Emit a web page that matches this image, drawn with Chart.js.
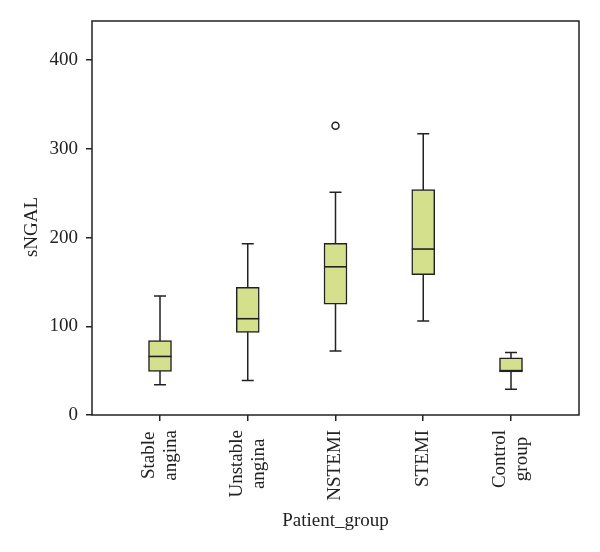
<!DOCTYPE html>
<html>
<head>
<meta charset="utf-8">
<script src="https://cdn.jsdelivr.net/npm/chart.js@4/dist/chart.umd.min.js"></script>
<style>
  html, body { margin: 0; padding: 0; background: #fff; }
  #wrap { width: 600px; height: 552px; }
</style>
</head>
<body>
<div id="wrap"><canvas id="chartBox"></canvas></div>
<script>
const categories = [['Stable', 'angina'], ['Unstable', 'angina'], ['NSTEMI'], ['STEMI'], ['Control', 'group']]
const whiskerLow = [34, 39, 72, 106, 29]
const q1 = [49, 93, 125, 158, 48.5]
const median = [66, 108.5, 167, 187, 50]
const q3 = [84, 144, 193.5, 254, 64.5]
const whiskerHigh = [134, 193, 251, 317, 70.5]
const outlierGroup = [2]
const outlierValue = [326]
const yTicks = [0, 100, 200, 300, 400]
const yTitle = 'sNGAL'

const ink = '#222'
const serif = 'Liberation Serif, "Times New Roman", serif'

const boxParts = {
  id: 'boxParts',
  beforeDatasetsDraw(chart) {
    const { ctx, scales: { x, y } } = chart
    ctx.save()
    ctx.strokeStyle = ink
    ctx.lineWidth = 1.5
    categories.forEach((c, i) => {
      const px = x.getPixelForValue(i)
      ctx.beginPath()
      ctx.moveTo(px, y.getPixelForValue(whiskerLow[i]))
      ctx.lineTo(px, y.getPixelForValue(whiskerHigh[i]))
      ctx.moveTo(px - 6, y.getPixelForValue(whiskerLow[i]))
      ctx.lineTo(px + 6, y.getPixelForValue(whiskerLow[i]))
      ctx.moveTo(px - 6, y.getPixelForValue(whiskerHigh[i]))
      ctx.lineTo(px + 6, y.getPixelForValue(whiskerHigh[i]))
      ctx.stroke()
    })
    ctx.restore()
  },
  afterDatasetsDraw(chart) {
    const { ctx, scales: { x, y } } = chart
    ctx.save()
    ctx.strokeStyle = ink
    ctx.lineWidth = 1.6
    categories.forEach((c, i) => {
      const px = x.getPixelForValue(i)
      const py = y.getPixelForValue(median[i])
      ctx.beginPath()
      ctx.moveTo(px - 11.5, py)
      ctx.lineTo(px + 11.5, py)
      ctx.stroke()
    })
    ctx.restore()
  },
  afterDraw(chart) {
    const { ctx, chartArea: a, scales: { x } } = chart
    ctx.save()
    ctx.strokeStyle = ink
    ctx.lineWidth = 1.5
    ctx.strokeRect(a.left, a.top, a.right - a.left, a.bottom - a.top)

    ctx.fillStyle = ink
    ctx.font = '19px ' + serif
    ctx.textAlign = 'center'
    ctx.textBaseline = 'middle'

    // y title sits a bit below the middle of the plot in the original
    ctx.save()
    ctx.translate(32, 227)
    ctx.rotate(-Math.PI / 2)
    ctx.fillText(yTitle, 0, 0)
    ctx.restore()

    // rotated category labels, lines centred on each tick
    const lh = 22
    categories.forEach((lines, i) => {
      const px = x.getPixelForValue(i)
      const maxW = Math.max(...lines.map(t => ctx.measureText(t).width))
      lines.forEach((t, j) => {
        ctx.save()
        ctx.translate(px + (j - (lines.length - 1) / 2) * lh, 430 + maxW / 2)
        ctx.rotate(-Math.PI / 2)
        ctx.fillText(t, 0, 0)
        ctx.restore()
      })
    })
    ctx.restore()
  }
}

const chartBox = new Chart(document.getElementById('chartBox').getContext('2d'), {
  type: 'bar',
  data: {
    datasets: [
      {
        label: 'box',
        data: categories.map((c, i) => ({ x: i, y: [q1[i], q3[i]] })),
        backgroundColor: '#d4e08c',
        borderColor: ink,
        borderWidth: 1.5,
        borderSkipped: false,
        barThickness: 23
      },
      {
        type: 'scatter',
        label: 'outlier',
        data: outlierGroup.map((g, i) => ({ x: g, y: outlierValue[i] })),
        pointRadius: 3.5,
        pointBackgroundColor: '#fff',
        pointBorderColor: ink,
        pointBorderWidth: 1.5
      }
    ]
  },
  options: {
    responsive: true,
    maintainAspectRatio: false,
    animation: false,
    layout: { padding: { top: 21, right: 21, left: 0, bottom: 0 } },
    scales: {
      x: {
        type: 'linear',
        min: -0.775,
        max: 4.775,
        offset: false,
        afterBuildTicks: (axis) => { axis.ticks = categories.map((c, i) => ({ value: i })) },
        afterFit: (axis) => { axis.height = 137 },
        grid: { offset: false, drawOnChartArea: false, drawTicks: true, tickLength: 6, color: ink, lineWidth: 1.5 },
        border: { display: false },
        ticks: { display: false },
        title: {
          display: true,
          text: 'Patient_group',
          color: ink,
          font: { family: serif, size: 19 },
          padding: { top: 4, bottom: 20 }
        }
      },
      y: {
        min: 0,
        max: 444,
        afterBuildTicks: (axis) => { axis.ticks = yTicks.map(v => ({ value: v })) },
        afterFit: (axis) => { axis.width = 92 },
        grid: { drawOnChartArea: false, drawTicks: true, tickLength: 6, color: ink, lineWidth: 1.5 },
        border: { display: false },
        ticks: { color: ink, padding: 8, font: { family: serif, size: 19 } }
      }
    },
    plugins: {
      legend: { display: false },
      tooltip: { enabled: false }
    }
  },
  plugins: [boxParts]
})
</script>
</body>
</html>
